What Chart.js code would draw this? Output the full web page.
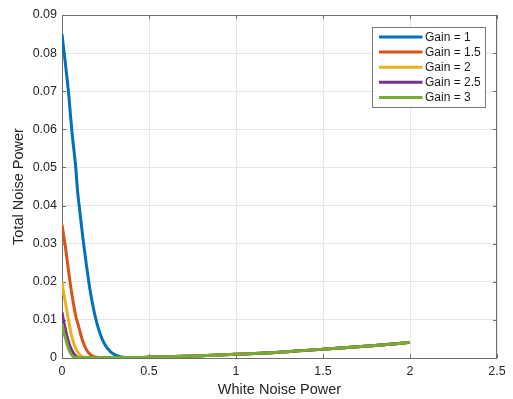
<!DOCTYPE html>
<html>
<head>
<meta charset="utf-8">
<script src="https://cdn.jsdelivr.net/npm/chart.js@4.4.0/dist/chart.umd.min.js"></script>
<style>
  html, body { margin: 0; padding: 0; background: #fff; }
  #wrap { width: 513px; height: 399px; }
</style>
</head>
<body>
<div id="wrap"><canvas id="c" width="513" height="399"></canvas></div>
<script>
/* ── Data ── */
const noisePower = [0, 0.01, 0.02, 0.03, 0.04, 0.05, 0.06, 0.07, 0.08, 0.09, 0.1, 0.12, 0.14, 0.16, 0.18, 0.2,
                    0.23, 0.26, 0.3, 0.34, 0.4, 0.5, 0.6, 0.8, 1.0, 1.2, 1.4, 1.6, 1.8, 2.0];

const gain1   = [0.085, 0.081, 0.077, 0.073, 0.0685, 0.063, 0.058, 0.054, 0.0495, 0.0435, 0.0395, 0.0315, 0.0245, 0.0182, 0.0132, 0.0092,
                 0.005, 0.0026, 0.0009, 0.0003, 0.0001, 0.0002, 0.0003, 0.0006, 0.001, 0.0014, 0.002, 0.0026, 0.0033, 0.0041];
const gain1_5 = [0.035, 0.032, 0.029, 0.0255, 0.022, 0.0188, 0.0158, 0.0132, 0.0108, 0.0092, 0.0075, 0.0043, 0.0022, 0.001, 0.0004, 0.0002,
                 0.0001, 0.0001, 0.0001, 0.0001, 0.0001, 0.0002, 0.0003, 0.0006, 0.001, 0.0014, 0.002, 0.0026, 0.0033, 0.0041];
const gain2   = [0.02, 0.017, 0.0145, 0.0118, 0.0093, 0.0069, 0.005, 0.0036, 0.0024, 0.0016, 0.001, 0.0003, 0.0001, 0.0001, 0.0001, 0.0001,
                 0.0001, 0.0001, 0.0001, 0.0001, 0.0001, 0.0002, 0.0003, 0.0006, 0.001, 0.0014, 0.002, 0.0026, 0.0033, 0.0041];
const gain2_5 = [0.012, 0.0095, 0.0074, 0.0055, 0.0039, 0.0026, 0.0017, 0.001, 0.0005, 0.0002, 0.0001, 0.0001, 0.0001, 0.0001, 0.0001, 0.0001,
                 0.0001, 0.0001, 0.0001, 0.0001, 0.0001, 0.0002, 0.0003, 0.0006, 0.001, 0.0014, 0.002, 0.0026, 0.0033, 0.0041];
const gain3   = [0.009, 0.0068, 0.0052, 0.0035, 0.0021, 0.0012, 0.0006, 0.0002, 0.0001, 0.0001, 0.0001, 0.0001, 0.0001, 0.0001, 0.0001, 0.0001,
                 0.0001, 0.0001, 0.0001, 0.0001, 0.0001, 0.0002, 0.0003, 0.0006, 0.001, 0.0014, 0.002, 0.0026, 0.0033, 0.0041];

const seriesLabels = ['Gain = 1', 'Gain = 1.5', 'Gain = 2', 'Gain = 2.5', 'Gain = 3'];
const seriesColors = ['#0072BD', '#D95319', '#EDB120', '#7E2F8E', '#77AC30'];
const xTickLabels  = ['0', '0.5', '1', '1.5', '2', '2.5'];
const yTickLabels  = ['0', '0.01', '0.02', '0.03', '0.04', '0.05', '0.06', '0.07', '0.08', '0.09'];

const FONT = "'Liberation Sans', Arial, Helvetica, sans-serif";

/* ── Axes box with inward ticks (MATLAB style) ── */
const axesBox = {
  id: 'axesBox',
  beforeDatasetsDraw(chart) {
    const { ctx, chartArea: a, scales: { x, y } } = chart;
    ctx.save();
    ctx.strokeStyle = '#6e6e6e';
    ctx.lineWidth   = 1;
    ctx.beginPath();
    x.ticks.forEach(t => {
      const px = Math.round(x.getPixelForValue(t.value)) + 0.5;
      ctx.moveTo(px, a.bottom); ctx.lineTo(px, a.bottom - 4);
      ctx.moveTo(px, a.top);    ctx.lineTo(px, a.top + 4);
    });
    y.ticks.forEach(t => {
      const py = Math.round(y.getPixelForValue(t.value)) + 0.5;
      ctx.moveTo(a.left, py);  ctx.lineTo(a.left + 4, py);
      ctx.moveTo(a.right, py); ctx.lineTo(a.right - 4, py);
    });
    ctx.stroke();
    ctx.strokeRect(a.left + 0.5, a.top + 0.5, a.right - a.left - 1, a.bottom - a.top);
    ctx.restore();
  }
};

/* ── Legend inside the axes, top right ── */
const insetLegend = {
  id: 'insetLegend',
  afterDatasetsDraw(chart) {
    const { ctx, chartArea: a } = chart;
    const bx = a.right - 124.5, by = a.top + 12.5, bw = 113, bh = 80;
    ctx.save();
    ctx.fillStyle   = '#ffffff';
    ctx.fillRect(bx, by, bw, bh);
    ctx.strokeStyle = '#7a7a7a';
    ctx.lineWidth   = 1;
    ctx.strokeRect(bx, by, bw, bh);
    ctx.font         = '12px ' + FONT;
    ctx.textBaseline = 'middle';
    ctx.textAlign    = 'left';
    seriesLabels.forEach((lbl, i) => {
      const cy = by + 9.5 + i * 15.1;
      ctx.strokeStyle = seriesColors[i];
      ctx.lineWidth   = 3;
      ctx.beginPath();
      ctx.moveTo(bx + 6.5, cy); ctx.lineTo(bx + 50, cy);
      ctx.stroke();
      ctx.fillStyle = '#1a1a1a';
      ctx.fillText(lbl, bx + 52.5, cy + 0.5);
    });
    ctx.restore();
  }
};

const seriesData = [gain1, gain1_5, gain2, gain2_5, gain3];

new Chart(document.getElementById('c'), {
  type: 'line',
  data: {
    datasets: seriesData.map((vals, i) => ({
      label:           seriesLabels[i],
      data:            noisePower.map((xv, k) => ({ x: xv, y: vals[k] })),
      borderColor:     seriesColors[i],
      backgroundColor: seriesColors[i],
      borderWidth:     3,
      pointRadius:     0,
      cubicInterpolationMode: 'monotone',
      fill:            false,
      order:           seriesData.length - i,
    }))
  },
  options: {
    responsive: false,
    animation:  false,
    devicePixelRatio: 1,
    layout: { padding: { top: 15, right: 16, left: 0, bottom: 0 } },
    plugins: {
      legend:  { display: false },
      tooltip: { enabled: false },
    },
    scales: {
      x: {
        type: 'linear',
        min: 0, max: 2.5,
        afterFit: s => { s.height = 41; },
        afterBuildTicks: s => { s.ticks = xTickLabels.map(Number).map(v => ({ value: v })); },
        grid:   { color: '#e6e6e6', drawTicks: false },
        border: { display: false },
        ticks:  {
          padding: 6,
          color: '#262626',
          font: { family: FONT, size: 12.5 },
          maxRotation: 0,
          callback: (v, i) => xTickLabels[i],
        },
        title: {
          display: true,
          text: 'White Noise Power',
          color: '#262626',
          font: { family: FONT, size: 14.5 },
          padding: { top: 0, bottom: 0 },
        },
      },
      y: {
        type: 'linear',
        min: 0, max: 0.09,
        afterFit: s => { s.width = 62; },
        afterBuildTicks: s => { s.ticks = yTickLabels.map(Number).map(v => ({ value: v })); },
        grid:   { color: '#e6e6e6', drawTicks: false },
        border: { display: false },
        ticks:  {
          padding: 5,
          color: '#262626',
          font: { family: FONT, size: 12.5 },
          callback: (v, i) => yTickLabels[i],
        },
        title: {
          display: true,
          text: 'Total Noise Power',
          color: '#262626',
          font: { family: FONT, size: 14.5 },
          padding: { top: 10, bottom: 0 },
        },
      },
    },
  },
  plugins: [axesBox, insetLegend],
});
</script>
</body>
</html>
